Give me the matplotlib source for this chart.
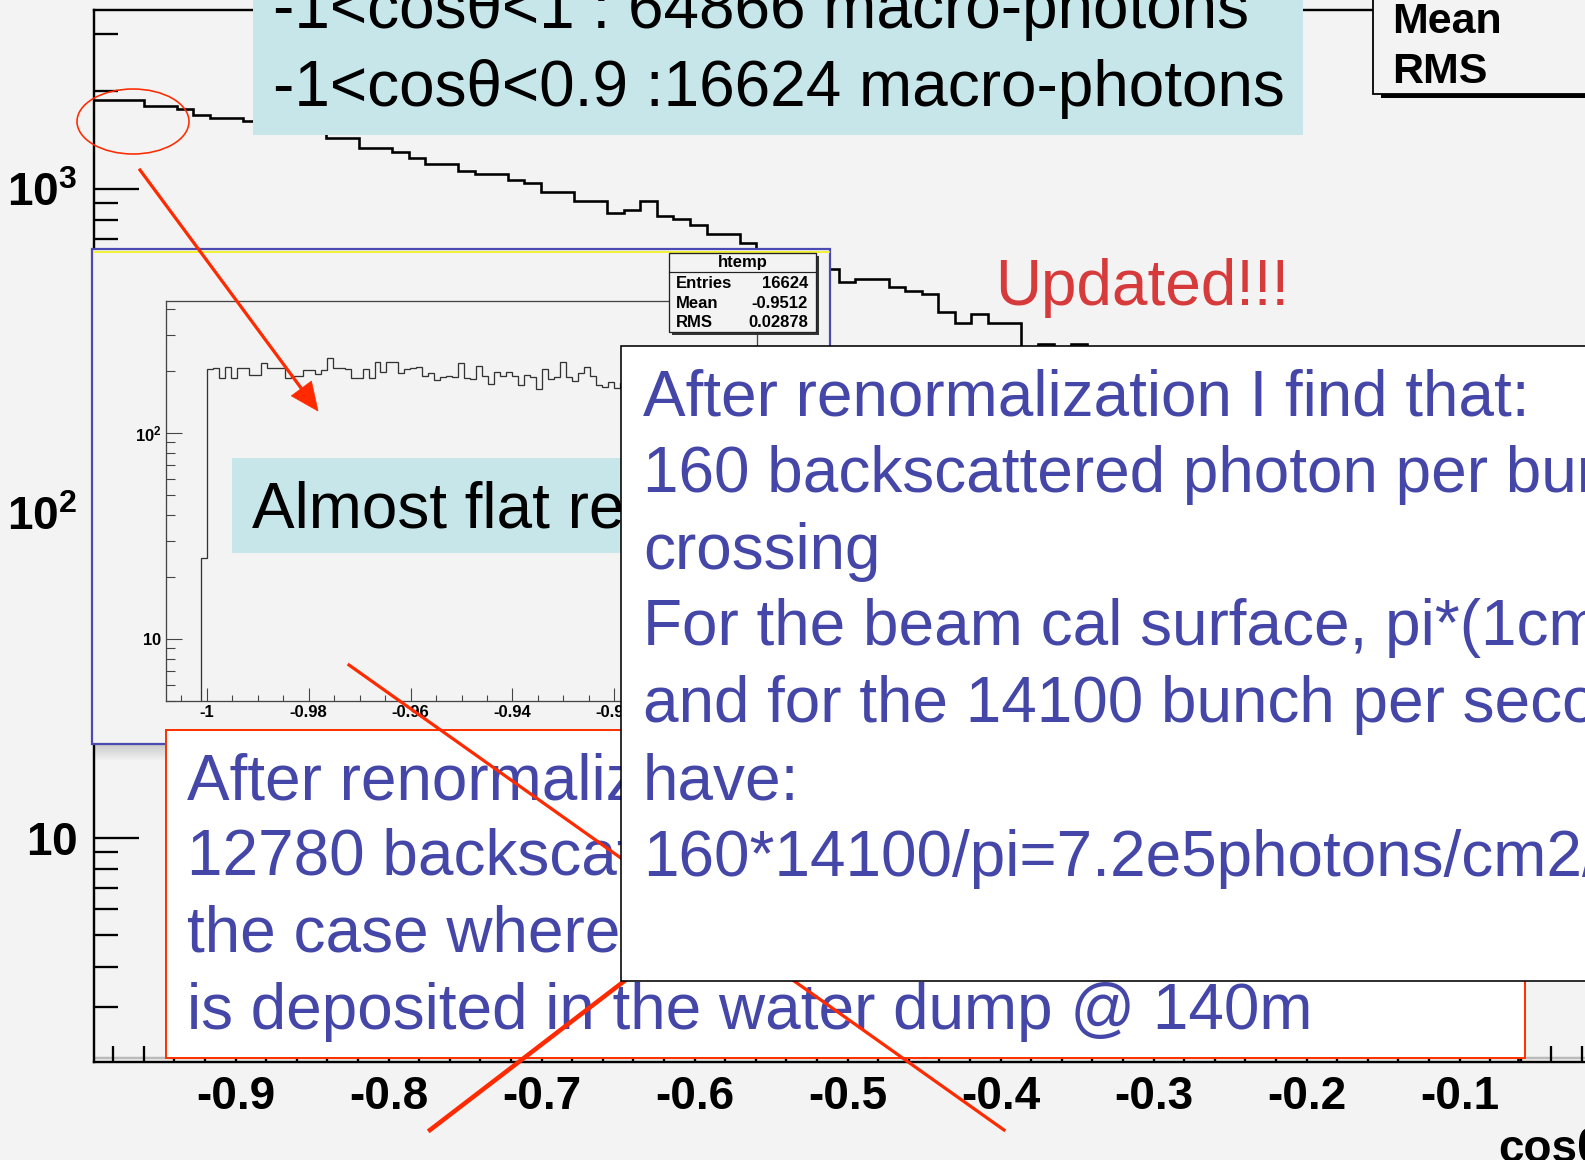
import numpy as np
import matplotlib
matplotlib.use('Agg')
import matplotlib.pyplot as plt
from matplotlib.patches import Rectangle, Ellipse, Polygon
from matplotlib.ticker import FixedLocator, LogLocator, NullFormatter

# main histogram: cos(theta) of back-scattered macro-photons (bin contents)
main_xmin = -0.9925
main_binw = 0.01082
main_counts = [1875, 1875, 1875, 1797, 1797, 1759, 1685, 1650, 1650, 1615,
               1590, 1560, 1520, 1480,
               1431, 1431, 1333, 1333, 1296, 1242, 1190, 1190, 1132, 1108,
               1108, 1062, 1040, 975, 975, 915, 915, 840, 858, 915, 823, 805,
               772, 724, 724, 679,
               650, 625, 600, 585,
               565, 515, 526, 526, 497, 483, 473, 416, 385, 410, 385, 385,
               325, 331, 310, 331,
               300, 290, 275, 260, 245, 230, 215, 200, 185, 170, 155, 140,
               125, 110, 95, 80, 66, 54, 43, 34, 26, 19, 13, 9, 6, 4,
               1.5, 1.2, 1, 1, 1, 1]
main_xticks = [-0.9, -0.8, -0.7, -0.6, -0.5, -0.4, -0.3, -0.2, -0.1]
main_xlabels = ['-0.9', '-0.8', '-0.7', '-0.6', '-0.5', '-0.4', '-0.3', '-0.2', '-0.1']
main_yticks = [10, 100, 1000]
main_ylabels = [r'$\mathbf{10}$', r'$\mathbf{10^{2}}$', r'$\mathbf{10^{3}}$']

# inset histogram (-1 < cos < -0.9)
in_xmin = -1.00118
in_binw = 0.001176
in_counts = [24.7,
             204, 207, 184, 210, 184, 206, 206, 191, 191, 218,
             206, 206, 206, 184, 190, 190, 202, 202, 193, 202,
             230, 207, 207, 204, 184, 184, 204, 184, 220, 197,
             220, 220, 195, 204,
             207, 210, 190, 196, 180, 186, 189, 186, 218, 184,
             183, 212, 188, 172, 197, 188, 197, 188, 170, 191,
             186, 164, 205, 183, 186, 222, 186, 179, 195, 210,
             190, 170, 168, 176, 166,
             175, 185, 178, 190, 172, 181, 169, 186, 177, 174, 188, 170,
             180, 173, 184, 167, 179, 176, 171, 182, 168, 175, 170]
in_xticks = [-1, -0.98, -0.96, -0.94, -0.92, -0.9]
in_xlabels = ['-1', '-0.98', '-0.96', '-0.94', '-0.92', '-0.9']
in_yticks = [10, 100]
in_ylabels = [r'$\mathbf{10}$', r'$\mathbf{10^{2}}$']
in_stats = [('Entries', '16624'), ('Mean', '-0.9512'), ('RMS', '0.02878')]

top_lines = ['-1<cos\u03b8<1 : 64866 macro-photons',
             '-1<cos\u03b8<0.9 :16624 macro-photons']
red_lines = ['After renormalization I find that:',
             '12780 backscattered photon per bunch crossing in',
             'the case where all the beam energy',
             'is deposited in the water dump @ 140m']
white_lines = ['After renormalization I find that:',
               '160 backscattered photon per bunch',
               'crossing',
               'For the beam cal surface, pi*(1cm)^2',
               'and for the 14100 bunch per second, I',
               'have:',
               '160*14100/pi=7.2e5photons/cm2/s']

W, H = 1585, 1160
BG = '#f3f3f3'
BLUE = '#4447a8'
RED = '#ff2a00'
CYAN = '#c6e6e9'
PT = 0.72  # points per pixel at dpi 100

plt.rcParams['font.family'] = ['Liberation Sans', 'DejaVu Sans']
plt.rcParams['axes.unicode_minus'] = False
plt.rcParams['mathtext.fontset'] = 'custom'
plt.rcParams['mathtext.rm'] = 'Liberation Sans'
plt.rcParams['mathtext.bf'] = 'Liberation Sans:bold'

fig = plt.figure(figsize=(W / 100, H / 100), dpi=100, facecolor=BG)


def px_axes(l, t, r, b, z):
    return fig.add_axes([l / W, (H - b) / H, (r - l) / W, (b - t) / H], zorder=z)


# ---------------- main histogram ----------------
ax = px_axes(94, 10, 1612.5, 1061.5, 0)
ax.set_facecolor(BG)
edges = main_xmin + main_binw * np.arange(len(main_counts) + 1)
ax.stairs(main_counts, edges, color='black', lw=2.6 * PT, baseline=None)
ax.set_xlim(main_xmin, 0.0)
ax.set_yscale('log')
ax.set_ylim(2.04, 3552)
ax.set_xticks(main_xticks, main_xlabels, fontsize=33, fontweight='bold')
ax.xaxis.set_minor_locator(FixedLocator(np.arange(-0.98, 0.0, 0.02)))
ax.set_yticks(main_yticks, main_ylabels, fontsize=33)
ax.yaxis.set_minor_locator(LogLocator(base=10, subs=np.arange(2, 10)))
ax.yaxis.set_minor_formatter(NullFormatter())
ax.tick_params(axis='x', which='major', direction='in', length=31.5 * PT,
               width=2.3 * PT, pad=10)
ax.tick_params(axis='x', which='minor', direction='in', length=15.7 * PT,
               width=2.3 * PT)
ax.tick_params(axis='y', which='major', direction='in', length=45 * PT,
               width=2.3 * PT, pad=12)
ax.tick_params(axis='y', which='minor', direction='in', length=24 * PT,
               width=2.3 * PT)
for s in ax.spines.values():
    s.set_linewidth(2.4 * PT)
ax.plot([0, 1], [0.003, 0.003], transform=ax.transAxes, color='#bbbbbb',
        lw=2.5 * PT, zorder=0.5)

# ---------------- overlay 1: top box, stats box, inset panel ----------------
ov1 = px_axes(0, 0, W, H, 1)
ov1.set_xlim(0, W)
ov1.set_ylim(H, 0)
ov1.axis('off')

ov1.add_patch(Rectangle((253, -10), 1050, 145, fc=CYAN, ec='none'))
for i, line in enumerate(top_lines):
    ov1.text(273, 28 + 78 * i, line, fontsize=46, va='baseline', color='black')

ov1.add_patch(Rectangle((1381, 94), 260, 4, fc='black', ec='none'))
ov1.add_patch(Rectangle((1373, -20), 260, 114, fc=BG, ec='black', lw=1.8 * PT))
ov1.text(1392, 33, 'Mean', fontsize=31, fontweight='bold', va='baseline')
ov1.text(1392, 83, 'RMS', fontsize=31, fontweight='bold', va='baseline')

ov1.text(1498, 1162, 'cos\u03b8', fontsize=33, fontweight='bold', va='baseline')

# inset pad with shadow
for i in range(8):
    ov1.add_patch(Rectangle((95, 744 + 2 * i), 740, 2, fc='black', ec='none',
                            alpha=0.16 * (1 - i / 8)))
ov1.add_patch(Rectangle((92, 249), 738, 495, fc=BG, ec='#4a4ab0', lw=2.2 * PT))
ov1.plot([93.5, 828.5], [251.5, 251.5], color='#f5f020', lw=1.8 * PT)

# ---------------- inset histogram ----------------
ai = px_axes(166, 301, 757, 701, 2)
ai.patch.set_alpha(0)
in_edges = in_xmin + in_binw * np.arange(len(in_counts) + 1)
ai.stairs(in_counts, in_edges, color='#333333', lw=1.3 * PT, baseline=1)
ai.set_xlim(-1.008, -0.892)
ai.set_yscale('log')
ai.set_ylim(5.0, 437)
ai.set_xticks(in_xticks, in_xlabels, fontsize=12, fontweight='bold')
ai.xaxis.set_minor_locator(FixedLocator(np.arange(-1.005, -0.89, 0.005)))
ai.set_yticks(in_yticks, in_ylabels, fontsize=12)
ai.yaxis.set_minor_locator(LogLocator(base=10, subs=np.arange(2, 10)))
ai.yaxis.set_minor_formatter(NullFormatter())
ai.tick_params(axis='x', which='major', direction='in', length=13 * PT,
               width=1.1 * PT, color='#444444', pad=3)
ai.tick_params(axis='x', which='minor', direction='in', length=6 * PT,
               width=1.1 * PT, color='#444444')
ai.tick_params(axis='y', which='major', direction='in', length=16 * PT,
               width=1.1 * PT, color='#444444', pad=3)
ai.tick_params(axis='y', which='minor', direction='in', length=9 * PT,
               width=1.1 * PT, color='#444444')
for s in ai.spines.values():
    s.set_linewidth(1.3 * PT)
    s.set_color('#444444')

# ---------------- overlay 2: annotations ----------------
ov2 = px_axes(0, 0, W, H, 3)
ov2.set_xlim(0, W)
ov2.set_ylim(H, 0)
ov2.axis('off')

# htemp stats box
ov2.add_patch(Rectangle((672, 256), 147, 79, fc='#333333', ec='none', zorder=1))
ov2.add_patch(Rectangle((669, 253), 147, 79, fc=BG, ec='#222222', lw=1.3 * PT, zorder=1.1))
ov2.plot([669, 816], [272, 272], color='#222222', lw=1.2 * PT, zorder=1.2)
ov2.text(742.5, 267, 'htemp', fontsize=12, fontweight='bold', ha='center',
         va='baseline', zorder=1.3)
for i, (k, v) in enumerate(in_stats):
    ov2.text(676, 288 + 19.5 * i, k, fontsize=12, fontweight='bold',
             va='baseline', zorder=1.3)
    ov2.text(808, 288 + 19.5 * i, v, fontsize=12, fontweight='bold',
             ha='right', va='baseline', zorder=1.3)

ov2.add_patch(Rectangle((232, 458), 420, 95, fc=CYAN, ec='none', zorder=1))
ov2.text(252, 528, 'Almost flat region', fontsize=46, va='baseline', zorder=1.1)

ov2.text(995, 305, 'Updated!!!', fontsize=46, color='#d63a3a', va='baseline')

# red ellipse and arrow
ov2.add_patch(Ellipse((133, 121.5), 112, 65, fc='none', ec=RED, lw=1.6 * PT, zorder=2))
start = np.array([140.0, 170.0])
tip = np.array([318.0, 411.0])
d = (tip - start) / np.hypot(*(tip - start))
nrm = np.array([-d[1], d[0]])
base = tip - 28 * d
ov2.plot([start[0], base[0]], [start[1], base[1]], color=RED, lw=3.2 * PT, zorder=2)
ov2.add_patch(Polygon([tip, base + 12.5 * nrm, base - 12.5 * nrm], closed=True,
                      fc=RED, ec=RED, lw=0.5, zorder=2))

# red bordered box
ov2.add_patch(Rectangle((166, 730), 1359, 328, fc='white', ec='#ff3300',
                        lw=2.0 * PT, zorder=3))
for i, line in enumerate(red_lines):
    ov2.text(187, 799 + 76.5 * i, line, fontsize=46, color=BLUE,
             va='baseline', zorder=3.1)

# red cross
ov2.plot([349, 1004], [665, 1130], color=RED, lw=3.2 * PT, zorder=4)
ov2.plot([430, 700], [1130, 923], color=RED, lw=4.5 * PT, zorder=4)

# white box
ov2.add_patch(Rectangle((621, 346), 1000, 635, fc='white', ec='black',
                        lw=1.6 * PT, zorder=5))
for i, line in enumerate(white_lines):
    ov2.text(643, 415 + 76.8 * i, line, fontsize=46, color=BLUE,
             va='baseline', zorder=5.1)

fig.savefig('out.png', dpi=100, facecolor=BG)
